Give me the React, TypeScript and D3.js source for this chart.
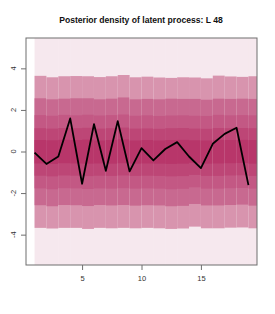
import React, { useRef, useEffect } from 'react';
import * as d3 from 'd3';

// time index 1..19, posterior draw of latent process
const steps = d3.range(1, 20);
const latent = [-0.05, -0.6, -0.24, 1.59, -1.55, 1.32, -0.93, 1.46, -0.96, 0.16, -0.43, 0.12, 0.45, -0.24, -0.8, 0.37, 0.85, 1.14, -1.62];

// posterior quantile band edges per time step (outer -> inner)
const hi5 = [3.64, 3.57, 3.62, 3.63, 3.62, 3.58, 3.62, 3.68, 3.57, 3.6, 3.56, 3.54, 3.57, 3.56, 3.52, 3.65, 3.61, 3.59, 3.62];
const hi4 = [2.56, 2.51, 2.54, 2.56, 2.56, 2.51, 2.54, 2.6, 2.51, 2.53, 2.51, 2.54, 2.53, 2.53, 2.49, 2.54, 2.53, 2.54, 2.53];
const hi3 = [1.75, 1.72, 1.76, 1.74, 1.77, 1.73, 1.75, 1.78, 1.72, 1.74, 1.71, 1.73, 1.74, 1.72, 1.71, 1.76, 1.74, 1.75, 1.74];
const hi2 = [1.12, 1.1, 1.13, 1.12, 1.14, 1.1, 1.12, 1.15, 1.1, 1.11, 1.09, 1.12, 1.13, 1.1, 1.09, 1.13, 1.12, 1.13, 1.12];
const hi1 = [0.55, 0.54, 0.56, 0.55, 0.57, 0.53, 0.55, 0.58, 0.53, 0.55, 0.53, 0.55, 0.56, 0.54, 0.53, 0.56, 0.55, 0.56, 0.55];
const lo1 = [-0.55, -0.57, -0.54, -0.55, -0.56, -0.55, -0.56, -0.54, -0.56, -0.55, -0.56, -0.57, -0.56, -0.52, -0.56, -0.55, -0.54, -0.53, -0.56];
const lo2 = [-1.14, -1.17, -1.13, -1.14, -1.16, -1.14, -1.15, -1.13, -1.15, -1.14, -1.15, -1.17, -1.16, -1.1, -1.15, -1.15, -1.13, -1.12, -1.15];
const lo3 = [-1.75, -1.79, -1.74, -1.75, -1.78, -1.75, -1.76, -1.74, -1.76, -1.75, -1.76, -1.79, -1.77, -1.7, -1.76, -1.76, -1.74, -1.73, -1.76];
const lo4 = [-2.56, -2.61, -2.55, -2.56, -2.6, -2.55, -2.57, -2.55, -2.58, -2.56, -2.57, -2.61, -2.59, -2.5, -2.57, -2.57, -2.55, -2.53, -2.58];
const lo5 = [-3.65, -3.68, -3.65, -3.65, -3.7, -3.65, -3.67, -3.65, -3.67, -3.65, -3.67, -3.7, -3.68, -3.59, -3.67, -3.67, -3.64, -3.63, -3.67];

const bandColors = ['#f6e8ee', '#d894ae', '#c86990', '#c35884', '#bd4676', '#b8366a'];
const xTicks = [5, 10, 15];
const yTicks = [-4, -2, 0, 2, 4];

const App = () => {
  const ref = useRef<SVGSVGElement>(null);
  const width = 275, height = 314;
  const margin = { left: 26, right: 18, top: 38, bottom: 49 };
  const w = width - margin.left - margin.right;
  const h = height - margin.top - margin.bottom;

  useEffect(() => {
    const svg = d3.select(ref.current);
    svg.selectAll('*').remove();

    const x = d3.scaleLinear().domain([0.28, 19.72]).range([0, w]);
    const y = d3.scaleLinear().domain([-5.46, 5.46]).range([h, 0]);

    svg.append('defs').append('clipPath').attr('id', 'plotclip')
      .append('rect').attr('width', w).attr('height', h);

    const chart = svg.append('g').attr('transform', `translate(${margin.left}, ${margin.top})`);
    const plot = chart.append('g').attr('clip-path', 'url(#plotclip)');

    const bands: [number[], number[]][] = [[lo5, hi5], [lo4, hi4], [lo3, hi3], [lo2, hi2], [lo1, hi1]];
    steps.forEach((s, i) => {
      const x0 = x(s), x1 = x(s + 1) + 0.5;
      plot.append('rect').attr('x', x0).attr('y', 0).attr('width', x1 - x0).attr('height', h)
        .attr('fill', bandColors[0]);
      bands.forEach(([lo, hi], k) => {
        plot.append('rect').attr('x', x0).attr('y', y(hi[i]))
          .attr('width', x1 - x0).attr('height', y(lo[i]) - y(hi[i]) + 0.5)
          .attr('fill', bandColors[k + 1]);
      });
    });

    const line = d3.line<number>().x((d, i) => x(steps[i])).y(d => y(d));
    plot.append('path').datum(latent).attr('d', line).attr('fill', 'none')
      .attr('stroke', '#000').attr('stroke-width', 1.8).attr('stroke-linejoin', 'round');

    chart.append('rect').attr('width', w).attr('height', h).attr('fill', 'none')
      .attr('stroke', '#6e6e6e').attr('stroke-width', 1);

    const xAxis = chart.append('g').attr('transform', `translate(0, ${h})`)
      .call(d3.axisBottom(x).tickValues(xTicks).tickSize(5).tickPadding(6));
    xAxis.select('.domain').remove();
    xAxis.selectAll('line').attr('stroke', '#6e6e6e');
    xAxis.selectAll('text').attr('font-size', 7.5).attr('fill', '#333').attr('font-family', 'Liberation Sans, Arial');

    const yAxis = chart.append('g').call(d3.axisLeft(y).tickValues(yTicks).tickSize(5));
    yAxis.select('.domain').remove();
    yAxis.selectAll('line').attr('stroke', '#6e6e6e');
    yAxis.selectAll('text').remove();
    yTicks.forEach(t => {
      chart.append('text').attr('transform', `translate(-10, ${y(t)}) rotate(-90)`)
        .attr('text-anchor', 'middle').attr('font-size', 7.5).attr('fill', '#333')
        .attr('font-family', 'Liberation Sans, Arial').text(t);
    });

    svg.append('text').attr('x', 141).attr('y', 23).attr('text-anchor', 'middle')
      .attr('font-size', 8.6).attr('font-weight', 'bold').attr('fill', '#111')
      .attr('font-family', 'Liberation Sans, Arial')
      .text('Posterior density of latent process: L 48');
  }, []);

  return (
    <svg ref={ref} width={width} height={height}
      style={{ position: 'absolute', left: 0, top: 0, background: '#fff' }} />
  );
};

export default App;
